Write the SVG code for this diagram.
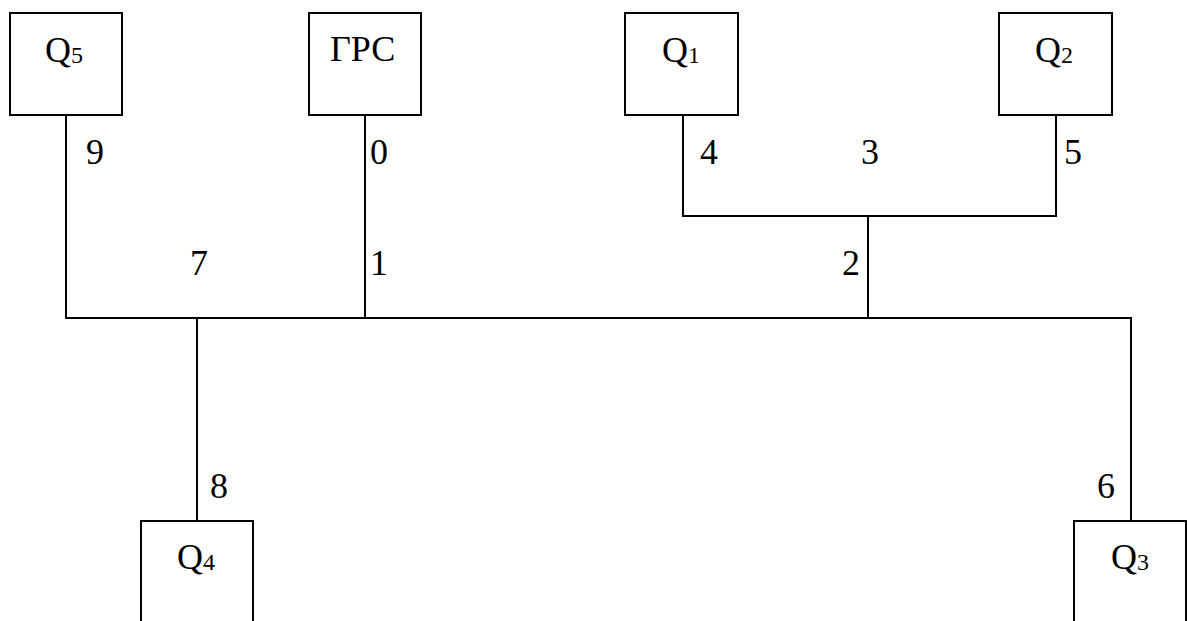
<svg xmlns="http://www.w3.org/2000/svg" width="1187" height="621" viewBox="0 0 1187 621">
<style>
rect.box{fill:#fff;stroke:#000;stroke-width:2}
.conn path{fill:none;stroke:#000;stroke-width:2}
text{font-family:"Liberation Serif","Times New Roman",serif;fill:#000}
.lbl{font-size:36px}
.num{font-size:36px}
.sub{font-size:24px}
</style>
<rect width="1187" height="621" fill="#fff"/>
<g class="conn" id="connectors">
<path d="M66,115 V318 H1131 V521"/>
<path d="M365,115 V318"/>
<path d="M683,115 V216 H1056 V115"/>
<path d="M868,216 V318"/>
<path d="M197,318 V521"/>
</g>
<g id="Q5"><rect class="box" x="10" y="13" width="112" height="102"/><text class="lbl" x="45" y="62">Q<tspan class="sub" dy="1">5</tspan></text></g>
<g id="GRS"><rect class="box" x="309" y="13" width="112" height="102"/><text class="lbl" x="330" y="61">ГРС</text></g>
<g id="Q1"><rect class="box" x="625" y="13" width="113" height="102"/><text class="lbl" x="662" y="62">Q<tspan class="sub" dy="1">1</tspan></text></g>
<g id="Q2"><rect class="box" x="999" y="13" width="113" height="102"/><text class="lbl" x="1035" y="62">Q<tspan class="sub" dy="1">2</tspan></text></g>
<g id="Q4"><rect class="box" x="141" y="521" width="112" height="110"/><text class="lbl" x="177" y="569">Q<tspan class="sub" dy="1">4</tspan></text></g>
<g id="Q3"><rect class="box" x="1074" y="521" width="112" height="110"/><text class="lbl" x="1111" y="569">Q<tspan class="sub" dy="1">3</tspan></text></g>
<g id="labels">
<text class="num" x="86" y="164">9</text>
<text class="num" x="370" y="164">0</text>
<text class="num" x="700" y="164">4</text>
<text class="num" x="861" y="164">3</text>
<text class="num" x="1064" y="164">5</text>
<text class="num" x="190" y="275">7</text>
<text class="num" x="370" y="275">1</text>
<text class="num" x="842" y="275">2</text>
<text class="num" x="210" y="498">8</text>
<text class="num" x="1097" y="498">6</text>
</g>
</svg>
